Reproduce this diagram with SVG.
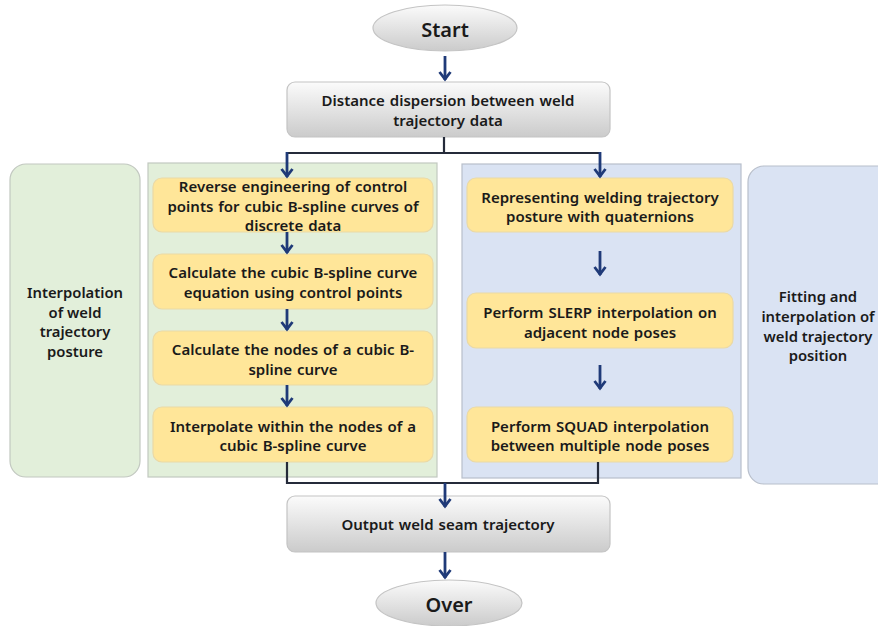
<svg xmlns="http://www.w3.org/2000/svg" width="878" height="626" viewBox="0 0 878 626">
<defs>
<linearGradient id="grey" x1="0" y1="0" x2="0" y2="1">
<stop offset="0" stop-color="#fbfbfb"/>
<stop offset="1" stop-color="#cbcbcb"/>
</linearGradient>
<marker id="ah" viewBox="-7 -9 14 11" refX="0" refY="0" markerWidth="14" markerHeight="11" markerUnits="userSpaceOnUse" orient="0">
<path d="M-5.5,-8 L0,-0.8 L5.5,-8" fill="none" stroke="#1f3a78" stroke-width="2.8" stroke-linecap="butt"/>
</marker>
</defs>
<style>
text{font-family:"Noto Sans","Open Sans","Liberation Sans",sans-serif;font-weight:600;fill:#1a1a1a;text-anchor:middle;dominant-baseline:central}
.t{font-size:15px;word-spacing:1px}
.lab{font-size:14.8px}
.big{font-size:20px}
.grey{fill:url(#grey);stroke:#c4c4c4;stroke-width:1.2}
.yel{fill:#ffe699;stroke:#ead9a6;stroke-width:1.2}
.gpan{fill:#e2efda;stroke:#c2c8c0;stroke-width:1.2}
.bpan{fill:#dae3f3;stroke:#b8bfcb;stroke-width:1.2}
.arrow{fill:none;stroke:#1f3a78;stroke-width:2.8;marker-end:url(#ah)}
.line{fill:none;stroke:#252b3a;stroke-width:2.2}
</style>

<g id="panel-left-label">
<rect class="gpan" x="10" y="164" width="130" height="313" rx="16"/>
<text class="lab" x="75" y="292">Interpolation</text>
<text class="lab" x="75" y="312">of weld</text>
<text class="lab" x="75" y="331">trajectory</text>
<text class="lab" x="75" y="351">posture</text>
</g>
<g id="panel-green">
<rect class="gpan" x="148" y="163" width="289" height="314"/>
</g>
<g id="panel-blue">
<rect class="bpan" x="462" y="164" width="279" height="314"/>
</g>
<g id="panel-right-label">
<rect class="bpan" x="748" y="166" width="150" height="318" rx="16"/>
<text class="lab" x="818" y="296">Fitting and</text>
<text class="lab" x="818" y="316">interpolation of</text>
<text class="lab" x="818" y="336">weld trajectory</text>
<text class="lab" x="818" y="355">position</text>
</g>

<g id="start">
<ellipse class="grey" cx="445" cy="28" rx="72" ry="23"/>
<text class="big" x="445" y="29">Start</text>
</g>
<g id="dispersion">
<rect class="grey" x="287" y="82" width="323" height="55" rx="8"/>
<text class="t" x="448" y="100">Distance dispersion between weld</text>
<text class="t" x="448" y="120">trajectory data</text>
</g>

<g id="reverse">
<rect class="yel" x="153" y="178" width="280" height="54" rx="9"/>
<text class="t" x="293" y="186">Reverse engineering of control</text>
<text class="t" x="293" y="206">points for cubic B-spline curves of</text>
<text class="t" x="293" y="225">discrete data</text>
</g>
<g id="equation">
<rect class="yel" x="153" y="254" width="280" height="55" rx="9"/>
<text class="t" x="293" y="272">Calculate the cubic B-spline curve</text>
<text class="t" x="293" y="292">equation using control points</text>
</g>
<g id="nodes">
<rect class="yel" x="153" y="331" width="280" height="54" rx="9"/>
<text class="t" x="293" y="349">Calculate the nodes of a cubic B-</text>
<text class="t" x="293" y="369">spline curve</text>
</g>
<g id="interp-bspline">
<rect class="yel" x="153" y="407" width="280" height="55" rx="9"/>
<text class="t" x="293" y="426">Interpolate within the nodes of a</text>
<text class="t" x="293" y="445">cubic B-spline curve</text>
</g>

<g id="quaternions">
<rect class="yel" x="467" y="178" width="266" height="54" rx="9"/>
<text class="t" x="600" y="197">Representing welding trajectory</text>
<text class="t" x="600" y="216">posture with quaternions</text>
</g>
<g id="slerp">
<rect class="yel" x="467" y="293" width="266" height="55" rx="9"/>
<text class="t" x="600" y="312">Perform SLERP interpolation on</text>
<text class="t" x="600" y="332">adjacent node poses</text>
</g>
<g id="squad">
<rect class="yel" x="467" y="407" width="266" height="55" rx="9"/>
<text class="t" x="600" y="426">Perform SQUAD interpolation</text>
<text class="t" x="600" y="445">between multiple node poses</text>
</g>

<g id="output">
<rect class="grey" x="287" y="496" width="323" height="56" rx="8"/>
<text class="t" x="448" y="524">Output weld seam trajectory</text>
</g>
<g id="over">
<ellipse class="grey" cx="449" cy="603" rx="73" ry="23"/>
<text class="big" x="449" y="604">Over</text>
</g>

<g id="connectors">
<path class="arrow" d="M445,56 V80"/>
<path class="line" d="M444,137 V153 M287,153 H600"/>
<path class="arrow" d="M287,152 V177"/>
<path class="arrow" d="M600,152 V177"/>
<path class="arrow" d="M287,232 V253"/>
<path class="arrow" d="M287,309 V330"/>
<path class="arrow" d="M287,385 V406"/>
<path class="arrow" d="M600,251 V275"/>
<path class="arrow" d="M600,365 V389"/>
<path class="line" d="M287,462 V483 H598 V462"/>
<path class="arrow" d="M445,483 V507"/>
<path class="arrow" d="M445,552 V578"/>
</g>
</svg>
